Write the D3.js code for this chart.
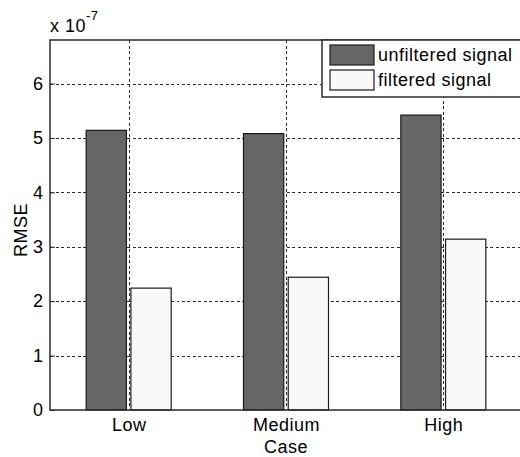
<!DOCTYPE html>
<html>
<head>
<meta charset="utf-8">
<script src="https://cdn.jsdelivr.net/npm/d3@7"></script>
<style>
  html, body { margin: 0; padding: 0; background: #fff; }
  svg { display: block; }
  text { font-family: "Liberation Sans", Arial, Helvetica, sans-serif; fill: #000; }
</style>
</head>
<body>
<svg id="chart" width="520" height="457"></svg>
<script>
// RMSE per noise case (values in units of 1e-7)
const categories = ["Low", "Medium", "High"];
const seriesNames = ["unfiltered signal", "filtered signal"];
const unfiltered = [5.14, 5.08, 5.42];
const filtered = [2.24, 2.44, 3.14];
const yTicks = [0, 1, 2, 3, 4, 5, 6];
const yMax = 6.8;
const exponentLabel = "-7";

const seriesValues = [unfiltered, filtered];
const seriesFill = ["#666666", "#f9f9f9"];

const svg = d3.select("#chart");
const plotL = 50, plotR = 522, plotT = 40, plotB = 410;
const fontSize = 18;
const spacing = 0.5;

const x = d3.scaleLinear().domain([0.5, categories.length + 0.5]).range([plotL, plotR]);
const y = d3.scaleLinear().domain([0, yMax]).range([plotB, plotT]);
// position of each series within a group, in pixels around the group centre
const sub = d3.scaleBand().domain(seriesNames).range([-42.5, 42.5]).paddingInner(0.1);

const gridColor = "#2a2a2a";
const grid = svg.append("g").attr("stroke", gridColor).attr("stroke-width", 1)
  .attr("stroke-dasharray", "3,2.5").attr("shape-rendering", "crispEdges");
yTicks.filter(t => t > 0).forEach(t => {
  grid.append("line").attr("x1", plotL).attr("x2", plotR)
    .attr("y1", Math.round(y(t)) + 0.5).attr("y2", Math.round(y(t)) + 0.5);
});
categories.forEach((c, i) => {
  const xp = Math.round(x(i + 1)) + 0.5;
  grid.append("line").attr("x1", xp).attr("x2", xp).attr("y1", plotT).attr("y2", plotB);
});

// bars
const rows = [];
categories.forEach((c, i) => {
  seriesNames.forEach((s, j) => rows.push({ cat: i + 1, series: s, j, value: seriesValues[j][i] }));
});
svg.append("g").selectAll("rect").data(rows).join("rect")
  .attr("x", d => x(d.cat) + sub(d.series))
  .attr("width", sub.bandwidth())
  .attr("y", d => y(d.value))
  .attr("height", d => y(0) - y(d.value))
  .attr("fill", d => seriesFill[d.j])
  .attr("stroke", "#1a1a1a")
  .attr("stroke-width", 1.2);

// axes box
const axisColor = "#2b2b2b";
svg.append("path")
  .attr("d", `M${plotR},${plotT}H${plotL}V${plotB}H${plotR}`)
  .attr("fill", "none").attr("stroke", axisColor).attr("stroke-width", 1.5);

// y axis ticks and labels
const yAxis = d3.axisLeft(y).tickValues(yTicks).tickSize(-5).tickPadding(7).tickFormat(d3.format("d"));
const ya = svg.append("g").attr("transform", `translate(${plotL},0)`).call(yAxis);
ya.select(".domain").remove();
ya.selectAll(".tick line").attr("stroke", axisColor);
ya.selectAll(".tick text").attr("font-size", fontSize).attr("font-family", null).attr("fill", "#000");

// x axis labels
const xAxis = d3.axisBottom(x).tickValues(categories.map((c, i) => i + 1))
  .tickFormat((d) => categories[d - 1]).tickSize(0).tickPadding(8);
const xa = svg.append("g").attr("transform", `translate(0,${plotB})`).call(xAxis);
xa.select(".domain").remove();
xa.selectAll(".tick text").attr("font-size", fontSize).attr("font-family", null)
  .attr("fill", "#000").attr("letter-spacing", spacing);

// axis titles
svg.append("text").attr("x", x(2)).attr("y", 453).attr("text-anchor", "middle")
  .attr("font-size", fontSize).attr("letter-spacing", spacing).text("Case");
svg.append("text").attr("transform", `translate(27,230) rotate(-90)`)
  .attr("text-anchor", "middle").attr("font-size", fontSize).attr("letter-spacing", spacing).text("RMSE");

// exponent multiplier
const mult = svg.append("text").attr("x", 50).attr("y", 32).attr("font-size", fontSize)
  .attr("letter-spacing", spacing);
mult.append("tspan").text("x 10");
mult.append("tspan").attr("dy", -12).attr("font-size", 13).text(exponentLabel);

// legend
const lg = svg.append("g");
lg.append("rect").attr("x", 322).attr("y", plotT).attr("width", 210).attr("height", 57)
  .attr("fill", "#fff").attr("stroke", axisColor).attr("stroke-width", 1.5);
seriesNames.forEach((s, j) => {
  const yy = 45 + j * 25;
  lg.append("rect").attr("x", 330).attr("y", yy).attr("width", 44).attr("height", 20)
    .attr("fill", seriesFill[j]).attr("stroke", "#1a1a1a").attr("stroke-width", 1.2);
  lg.append("text").attr("x", 378).attr("y", yy + 16).attr("font-size", fontSize)
    .attr("letter-spacing", spacing).text(s);
});
</script>
</body>
</html>
